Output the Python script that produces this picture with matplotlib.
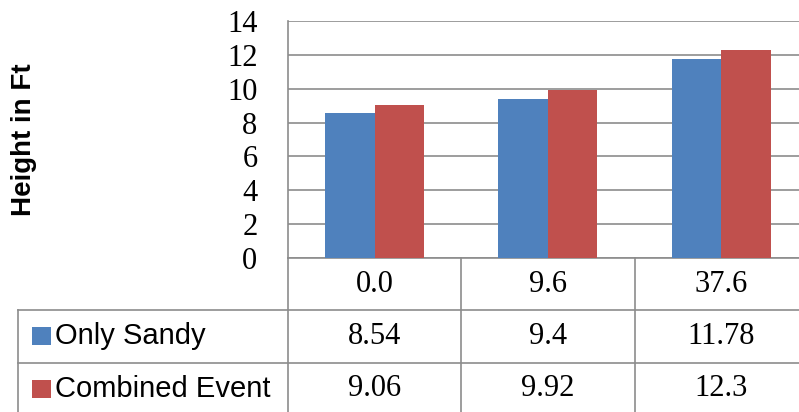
import matplotlib.pyplot as plt
from matplotlib.patches import Rectangle
from matplotlib.transforms import blended_transform_factory

# dati
categories = ['0.0', '9.6', '37.6']
series_names = ['Only Sandy', 'Combined Event']
only_sandy = [8.54, 9.4, 11.78]
combined_event = [9.06, 9.92, 12.3]
series_values = [only_sandy, combined_event]
colors = ['#4F81BD', '#C0504D']
grid_color = '#8C8C8C'

W, H = 799, 412
fig = plt.figure(figsize=(W / 100, H / 100), dpi=100)
fig.patch.set_facecolor('white')

# area del grafico in pixel (si estende oltre il bordo destro, come nell'originale)
left_px, top_px, bottom_px, col_px = 288, 21, 258, 173.3
ax = fig.add_axes([left_px / W, (H - bottom_px) / H,
                   3 * col_px / W, (bottom_px - top_px) / H])

n = len(categories)
w = 1 / 3.5  # gap width 150%
for k, vals in enumerate(series_values):
    offset = (k - 0.5) * w
    ax.bar([i + offset for i in range(n)], vals, width=w, color=colors[k],
           zorder=3, linewidth=0)

ax.set_xlim(-0.5, n - 0.5)
ax.set_ylim(0, 14)
ax.set_yticks(range(0, 15, 2))
ax.set_xticks([])
ax.yaxis.grid(True, color=grid_color, linewidth=1.2, zorder=0)
ax.tick_params(axis='y', length=0, pad=22, labelsize=22)
for lab in ax.get_yticklabels():
    lab.set_family('Liberation Serif')
for s in ['top', 'right']:
    ax.spines[s].set_visible(False)
for s in ['left', 'bottom']:
    ax.spines[s].set_color(grid_color)
    ax.spines[s].set_linewidth(1.2)

fig.text(24 / W, (H - 140) / H, 'Height in Ft', rotation=90, ha='center',
         va='center', fontsize=20, fontweight='bold', family='Liberation Sans')

# tabella dati sotto il grafico
tr = blended_transform_factory(ax.transData, ax.transAxes)
ah = bottom_px - top_px


def px_x(px):
    return -0.5 + (px - left_px) / col_px


def px_y(py):
    return -(py - bottom_px) / ah


row_lines = [310, 363]
table_left = px_x(18)
for py in row_lines:
    ax.plot([table_left, n - 0.5], [px_y(py), px_y(py)], color=grid_color,
            linewidth=1.2, transform=tr, clip_on=False)
for i in range(n):
    ax.plot([i - 0.5, i - 0.5], [0, px_y(420)], color=grid_color,
            linewidth=1.2, transform=tr, clip_on=False)
ax.plot([table_left, table_left], [px_y(310), px_y(420)], color=grid_color,
        linewidth=1.2, transform=tr, clip_on=False)

header_y = px_y(284)
row_y = [px_y(336), px_y(389)]
for i, c in enumerate(categories):
    ax.text(i, header_y, c, ha='center', va='center', fontsize=22,
            family='Liberation Serif', transform=tr)
for k, vals in enumerate(series_values):
    for i, v in enumerate(vals):
        ax.text(i, row_y[k], f'{v:g}', ha='center', va='center', fontsize=22,
                family='Liberation Serif', transform=tr)
    ax.add_patch(Rectangle((px_x(32), row_y[k] - 9 / ah), px_x(51) - px_x(32),
                           18 / ah, facecolor=colors[k], edgecolor='none',
                           transform=tr, clip_on=False))
    ax.text(px_x(55), row_y[k], series_names[k], ha='left', va='center',
            fontsize=21, family='Liberation Sans', transform=tr)

fig.savefig('out.png', dpi=100)
